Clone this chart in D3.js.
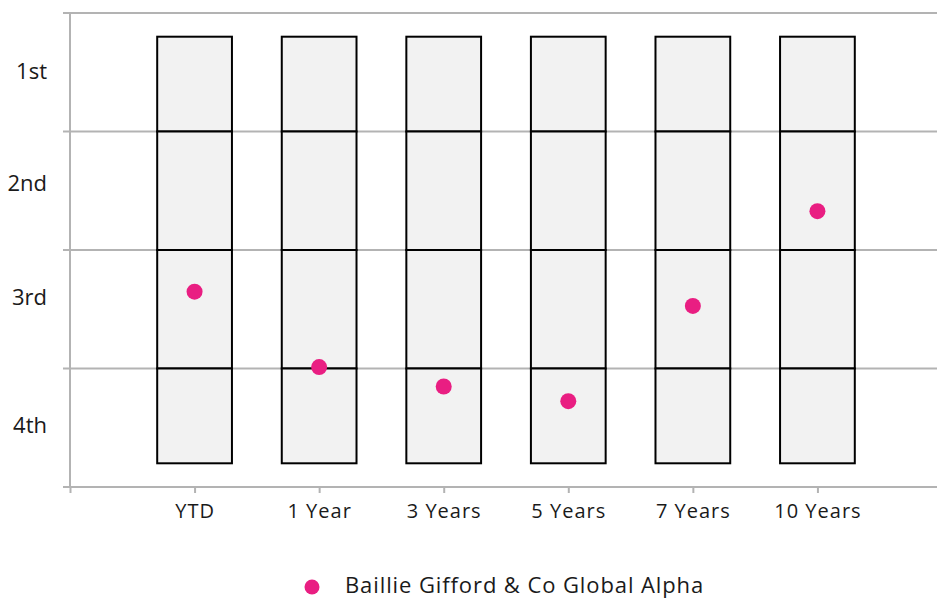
<!DOCTYPE html>
<html>
<head>
<meta charset="utf-8">
<script src="https://cdn.jsdelivr.net/npm/d3@7"></script>
<style>
  html, body { margin: 0; padding: 0; background: #fff; }
  svg { display: block; font-family: "Open Sans", "Noto Sans", sans-serif; }
</style>
</head>
<body>
<svg id="chart" width="937" height="598"></svg>
<script>
// Periods (index 0 is the empty origin slot on the axis)
const periods = ["", "YTD", "1 Year", "3 Years", "5 Years", "7 Years", "10 Years"];
// Percentile rank of the fund in each period (0 = best, 100 = worst)
const fundRank = [58.8, 74.7, 78.8, 81.9, 61.8, 41.8];
const fundName = "Baillie Gifford & Co Global Alpha";
// Quartile band boundaries drawn in each bar (5th to 95th percentile)
const bandEdges = [5, 25, 50, 75, 95];
// Quartile labels and the rank where each label's baseline sits
const quartileLabels = ["1st", "2nd", "3rd", "4th"];
const quartileLabelAt = [13.9, 37.5, 61.7, 88.7];
// Axis gridline values
const gridValues = [0, 25, 50, 75, 100];

const svg = d3.select("#chart");
const x = d3.scaleLinear().domain([0, 7]).range([70, 942]);
const y = d3.scaleLinear().domain([0, 100]).range([13, 487]);
const step = x(1) - x(0);
const barW = step * 0.6;
const textColor = "#1a1a1a";
const gridColor = "#b3b3b3";

// Gridlines (with short ticks to the left of the axis)
svg.append("g").selectAll("line").data(gridValues).join("line")
  .attr("x1", 63).attr("x2", 937)
  .attr("y1", d => y(d)).attr("y2", d => y(d))
  .attr("stroke", gridColor).attr("stroke-width", 2);

// Vertical axis line
svg.append("line")
  .attr("x1", x(0)).attr("x2", x(0))
  .attr("y1", y(0)).attr("y2", y(100))
  .attr("stroke", gridColor).attr("stroke-width", 2);

// Bottom axis ticks and labels
const xAxis = d3.axisBottom(x)
  .tickValues(d3.range(periods.length))
  .tickFormat(i => periods[i])
  .tickSize(6).tickPadding(11);
const gx = svg.append("g").attr("transform", `translate(0,${y(100)})`).call(xAxis);
gx.select(".domain").remove();
gx.selectAll(".tick line").attr("stroke", gridColor).attr("stroke-width", 2);
gx.selectAll(".tick text")
  .attr("font-size", 20).attr("fill", textColor)
  .attr("font-family", "'Open Sans', sans-serif")
  .attr("letter-spacing", "1px")
  .attr("dy", "0.71em");

// Quartile labels
svg.append("g").selectAll("text").data(quartileLabels).join("text")
  .attr("x", 47).attr("y", (d, i) => y(quartileLabelAt[i]))
  .attr("text-anchor", "end")
  .attr("font-size", 22).attr("fill", textColor)
  .text(d => d);

// Quartile bars: one rect per band segment
const segs = [];
periods.slice(1).forEach((p, i) => {
  for (let k = 0; k < bandEdges.length - 1; k++) {
    segs.push({ i: i + 1, lo: bandEdges[k], hi: bandEdges[k + 1] });
  }
});
svg.append("g").selectAll("rect").data(segs).join("rect")
  .attr("x", d => x(d.i) - barW / 2)
  .attr("width", barW)
  .attr("y", d => y(d.lo))
  .attr("height", d => y(d.hi) - y(d.lo))
  .attr("fill", "#f2f2f2")
  .attr("stroke", "#000").attr("stroke-width", 2);

// Fund rank markers
svg.append("g").selectAll("circle").data(fundRank).join("circle")
  .attr("cx", (d, i) => x(i + 1))
  .attr("cy", d => y(d))
  .attr("r", 8)
  .attr("fill", "#e91e82");

// Legend
const lg = svg.append("g");
lg.append("circle").attr("cx", 312).attr("cy", 587).attr("r", 7.5).attr("fill", "#e91e82");
lg.append("text").attr("x", 345).attr("y", 593)
  .attr("font-size", 22).attr("letter-spacing", "0.9px").attr("fill", textColor)
  .text(fundName);
</script>
</body>
</html>
